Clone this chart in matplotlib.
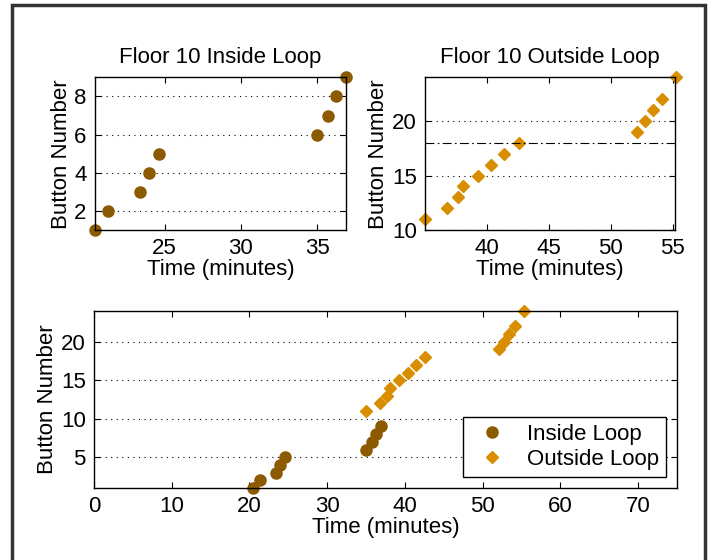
import matplotlib
matplotlib.use('Agg')
import matplotlib.pyplot as plt
from matplotlib.patches import Rectangle

# Inside loop: time (min) vs button number
inside_time = [20.44, 21.3, 23.37, 23.99, 24.62, 35.0, 35.7, 36.27, 36.89]
inside_button = [1, 2, 3, 4, 5, 6, 7, 8, 9]

# Outside loop
outside_time = [35.0, 36.8, 37.64, 38.07, 39.26, 40.37, 41.42, 42.58,
                52.1, 52.74, 53.44, 54.17, 55.3]
outside_button = [11, 12, 13, 14, 15, 16, 17, 18, 19, 20, 21, 22, 24]

threshold = 18

c_in = '#8c5a00'
c_out = '#d88e00'

plt.rcParams['font.family'] = ['Liberation Sans', 'DejaVu Sans']
plt.rcParams['font.size'] = 16


def style_axes(ax):
    ax.tick_params(direction='in', top=True, right=True, length=4, width=0.8,
                   labelsize=16, pad=6)
    ax.yaxis.grid(True, linestyle=(0, (1, 4)), color='k', linewidth=0.8)
    ax.set_axisbelow(True)
    for s in ax.spines.values():
        s.set_linewidth(1.0)


fig = plt.figure(figsize=(7.17, 5.6), dpi=100)

# top-left
ax1 = fig.add_axes([0.1325, 0.589, 0.350, 0.273])
ax1.plot(inside_time, inside_button, 'o', color=c_in, markersize=8, clip_on=False)
ax1.set_xlim(20.44, 36.89)
ax1.set_ylim(1, 9)
ax1.set_xticks([25, 30, 35])
ax1.set_yticks([2, 4, 6, 8])
ax1.set_title('Floor 10 Inside Loop', fontsize=16, pad=10)
ax1.set_xlabel('Time (minutes)', labelpad=0)
ax1.set_ylabel('Button Number', labelpad=2)
style_axes(ax1)

# top-right
ax2 = fig.add_axes([0.5927, 0.589, 0.3487, 0.273])
ax2.plot(outside_time, outside_button, 'D', color=c_out, markersize=6.5, clip_on=False)
ax2.axhline(threshold, color='k', linestyle=(0, (8, 3, 1.5, 3)), linewidth=0.8)
ax2.set_xlim(35.0, 55.2)
ax2.set_ylim(10, 24)
ax2.set_xticks([40, 45, 50, 55])
ax2.set_yticks([10, 15, 20])
ax2.set_title('Floor 10 Outside Loop', fontsize=16, pad=10)
ax2.set_xlabel('Time (minutes)', labelpad=0)
ax2.set_ylabel('Button Number', labelpad=2)
style_axes(ax2)

# bottom
ax3 = fig.add_axes([0.1311, 0.1286, 0.8131, 0.316])
ax3.plot(inside_time, inside_button, 'o', color=c_in, markersize=8,
         clip_on=False, label='Inside Loop')
ax3.plot(outside_time, outside_button, 'D', color=c_out, markersize=6.5,
         clip_on=False, label='Outside Loop')
ax3.set_xlim(0, 75)
ax3.set_ylim(1, 24)
ax3.set_xticks([0, 10, 20, 30, 40, 50, 60, 70])
ax3.set_yticks([5, 10, 15, 20])
ax3.set_xlabel('Time (minutes)', labelpad=0)
ax3.set_ylabel('Button Number', labelpad=2)
style_axes(ax3)
leg = ax3.legend(loc='lower right', fancybox=False, edgecolor='k', framealpha=1,
                 fontsize=16, borderaxespad=0.5, handletextpad=0.6,
                 borderpad=0.3, labelspacing=0.2)
leg.get_frame().set_linewidth(1.0)

# outer frame
fig.patches.append(Rectangle((12 / 717, -0.05), (705 - 12) / 717, (555 / 560) + 0.05,
                             transform=fig.transFigure, fill=False,
                             edgecolor='#333333', linewidth=2.5))

fig.savefig('out.png', dpi=100)
